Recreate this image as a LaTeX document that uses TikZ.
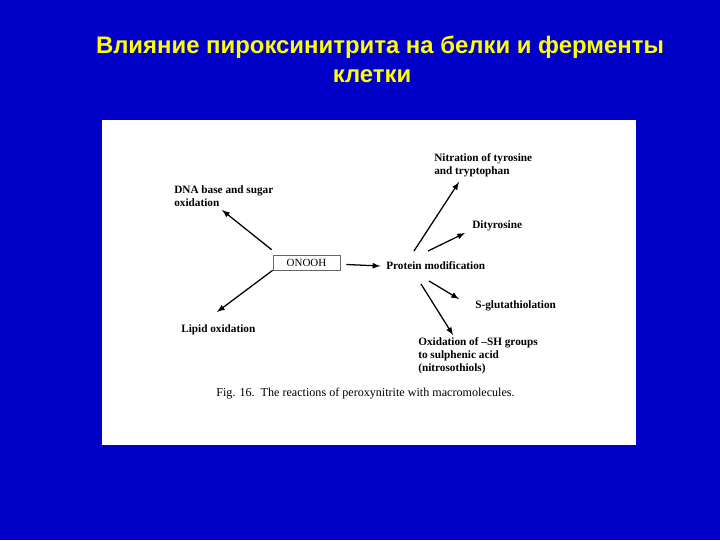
\documentclass[tikz,border=0pt]{standalone}
\usepackage{fontspec}
\setmainfont{Liberation Serif}
\newfontfamily\titlefont{Liberation Sans}
\usetikzlibrary{positioning}
\definecolor{slideblue}{RGB}{0,0,200}
\definecolor{titleyellow}{RGB}{255,255,0}
\begin{document}
\begin{tikzpicture}[
	x=0.025cm, y=-0.025cm,
	title/.style={font=\titlefont\bfseries\fontsize{17}{20}\selectfont, text=titleyellow},
	term/.style={font=\bfseries\fontsize{8}{9.2}\selectfont, align=left,
	inner sep=0pt, anchor=west},
	box/.style={draw=black!60, thin, fill=white, minimum width=1.675cm,
	minimum height=0.375cm, inner sep=0pt, font=\fontsize{7.8}{9}\selectfont},
	react/.style={>=latex, draw=black, line width=0.9pt, ->},
	]
	\fill[slideblue] (0,0) rectangle (720,540);
	\useasboundingbox (0,0) rectangle (720,540);
	\fill[white] (102,120) rectangle (636,445);
	% title
	\node[title] (t1) at (380,47) {Влияние пироксинитрита на белки и ферменты};
	\node[title] (t2) at (372,76) {клетки};
	% nodes
	\node[box] (onooh) at (306.5,262.5) {ONOOH};
	\node[term] (prot) at (386,266) {Protein modification};
	\node[term] (dna) at (174,196.5) {DNA base and sugar\\oxidation};
	\node[term] (lipid) at (181,329.5) {Lipid oxidation};
	\node[term] (nitr) at (434,165) {Nitration of tyrosine\\and tryptophan};
	\node[term] (dity) at (472,226) {Dityrosine};
	\node[term] (sglut) at (475,306) {S-glutathiolation};
	\node[term] (oxsh) at (418,356) {Oxidation of --SH groups\\to sulphenic acid\\(nitrosothiols)};
	\node[font=\fontsize{8.6}{10}\selectfont] (cap) at (365.5,394)
	{Fig. 16.\ \ The reactions of peroxynitrite with macromolecules.};
	% start points on protein modification
	\coordinate (p1) at (414,251);
	\coordinate (p2) at (428,251);
	\coordinate (p3) at (429,281);
	\coordinate (p4) at (421,284);
	\coordinate (d1) at (222,210);
	\coordinate (l1) at (217,312);
	\coordinate (n1) at (459,182);
	\coordinate (y1) at (465,233);
	\coordinate (s1) at (459,299);
	\coordinate (o1) at (453,335);
	% arrows
	\draw[react] (onooh.east) ++(6,2) -- ([xshift=-4pt]prot.west);
	\draw[react] ([shift={(-1,-5)}]onooh.north west) -- (d1);
	\draw[react] (onooh.south west) -- (l1);
	\draw[react] (p1) -- (n1);
	\draw[react] (p2) -- (y1);
	\draw[react] (p3) -- (s1);
	\draw[react] (p4) -- (o1);
\end{tikzpicture}
\end{document}
